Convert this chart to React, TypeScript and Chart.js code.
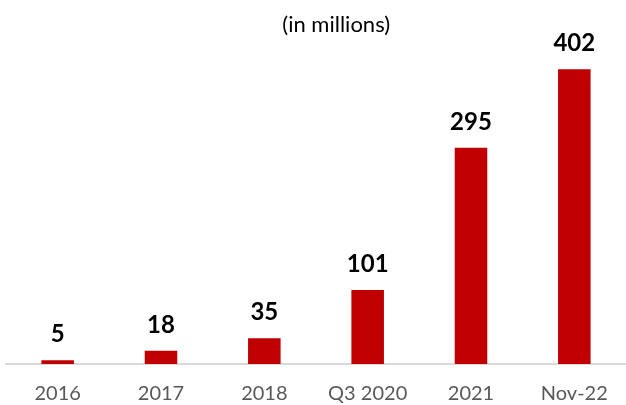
import React, { useEffect, useRef } from "react";
import { Chart, registerables } from "chart.js";

Chart.register(...registerables);

const categories = ["2016", "2017", "2018", "Q3 2020", "2021", "Nov-22"];
const values = [5, 18, 35, 101, 295, 402];
const titleText = "(in millions)";

const FONT = "Lato, 'Open Sans', 'Noto Sans', sans-serif";

const labelPlugin = {
  id: "valueLabels",
  afterDatasetsDraw(chart: any) {
    const ctx = chart.ctx;
    const meta = chart.getDatasetMeta(0);
    ctx.save();
    ctx.fillStyle = "#000000";
    ctx.font = `bold 24px ${FONT}`;
    ctx.textAlign = "center";
    ctx.textBaseline = "alphabetic";
    meta.data.forEach((bar: any, i: number) => {
      ctx.fillText(String(values[i]), bar.x, bar.y - 18);
    });
    ctx.restore();
  },
};

const titlePlugin = {
  id: "offsetTitle",
  afterDraw(chart: any) {
    const ctx = chart.ctx;
    ctx.save();
    ctx.fillStyle = "#000000";
    ctx.font = `22px ${FONT}`;
    ctx.textAlign = "center";
    ctx.textBaseline = "middle";
    ctx.fillText(titleText, chart.width * 0.537, 25);
    ctx.restore();
  },
};

export default function App() {
  const ref = useRef<HTMLCanvasElement | null>(null);
  useEffect(() => {
    if (!ref.current) return;
    const chart = new Chart(ref.current, {
      type: "bar",
      data: {
        labels: categories,
        datasets: [
          {
            data: values,
            backgroundColor: "#C00000",
            borderWidth: 0,
            barPercentage: 0.315,
            categoryPercentage: 1,
          },
        ],
      },
      options: {
        animation: false,
        responsive: false,
        maintainAspectRatio: false,
        layout: { padding: { top: 34, left: 6, right: 0, bottom: 0 } },
        plugins: {
          legend: { display: false },
          tooltip: { enabled: false },
          title: { display: false },
        },
        scales: {
          x: {
            grid: { display: false, drawTicks: false },
            border: { display: true, color: "#D9D9D9", width: 2 },
            ticks: {
              color: "#595959",
              font: { family: FONT, size: 20 },
              padding: 18,
              maxRotation: 0,
            },
            afterFit(scale: any) {
              scale.height = 41;
            },
          },
          y: {
            display: false,
            min: 0,
            max: 450,
          },
        },
      },
      plugins: [labelPlugin, titlePlugin],
    });
    return () => chart.destroy();
  }, []);
  return (
    <div style={{ position: "fixed", left: 0, top: 0, width: 626, height: 405, background: "#fff" }}>
      <canvas ref={ref} width={626} height={405} style={{ width: 626, height: 405 }} />
    </div>
  );
}
